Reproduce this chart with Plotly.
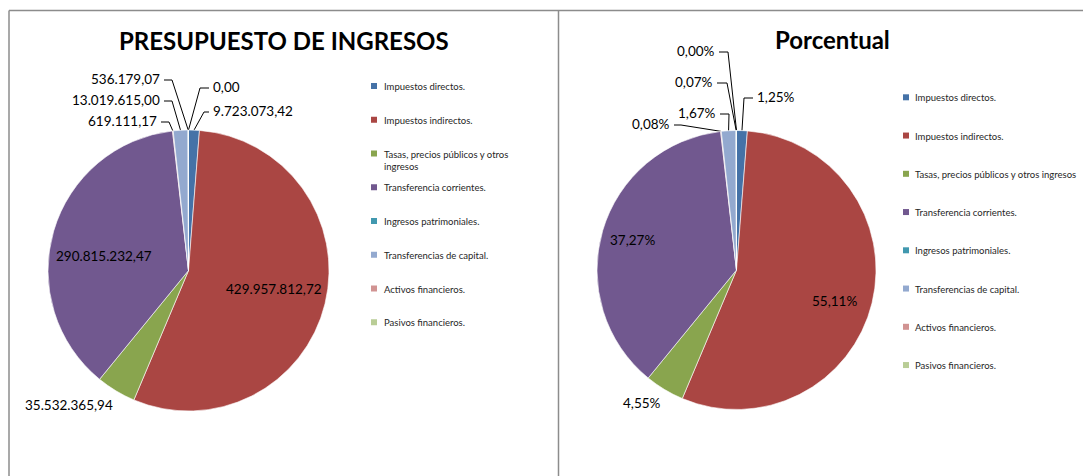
import math
import plotly.graph_objects as go

# categories (legend order) and values
categorias = [
    "Impuestos directos.",
    "Impuestos indirectos.",
    "Tasas, precios públicos y otros ingresos",
    "Transferencia corrientes.",
    "Ingresos patrimoniales.",
    "Transferencias de capital.",
    "Activos financieros.",
    "Pasivos financieros.",
]
importes = [9723073.42, 429957812.72, 35532365.94, 290815232.47,
            536179.07, 13019615.00, 619111.17, 0.00]
colores = ["#4572A7", "#AA4643", "#89A54E", "#71588F",
           "#4198AF", "#93A9CF", "#D19392", "#B9CD96"]
# order in which the slices sit around the pie (clockwise from 12 o'clock)
orden_pie = [0, 1, 2, 3, 6, 5, 4, 7]

total = sum(importes)
porcentajes = [v / total * 100 for v in importes]


def es_num(v, dec=2):
    s = f"{v:,.{dec}f}"
    return s.replace(",", "X").replace(".", ",").replace("X", ".")


txt_importes = [es_num(v) for v in importes]
txt_pct = [es_num(p) + "%" for p in porcentajes]

# the page body has an 8px margin, so the figure is drawn from (8, 8)
OFF = 8
SW, SH = 1091, 476
W, H = SW - OFF, SH - OFF
FONT = "Lato"

# pie geometry (screen pixels): centre x, centre y, radius
pies = [
    dict(cx=188.5, cy=270.5, r=140.5, title="PRESUPUESTO DE INGRESOS", tx=284, ty=40,
         textos=txt_importes),
    dict(cx=736.5, cy=270.0, r=139.5, title="Porcentual", tx=832, ty=39,
         textos=txt_pct),
]

# label placement: category -> (x, y, side, stub)   side 'in' = centred text
etiquetas = [
    {1: (274, 289, "in", 0), 3: (104, 256, "in", 0), 2: (69, 405, "in", 0),
     4: (162, 79, "r", 8), 5: (162, 100, "r", 8), 6: (159, 121, "r", 8),
     7: (211, 87, "l", 9), 0: (211, 111, "l", 5)},
    {1: (834, 301, "in", 0), 3: (632, 240, "in", 0), 2: (642, 403, "in", 0),
     7: (717, 51, "r", 9), 4: (715, 82, "r", 10), 5: (718, 113, "r", 9),
     6: (672, 124, "r", 7), 0: (755, 97, "l", 9)},
]

fig = go.Figure()
annotations = []
shapes = []

lx, ly = [], []
for p, lab in zip(pies, etiquetas):
    fig.add_trace(go.Pie(
        labels=[categorias[i] for i in orden_pie],
        values=[importes[i] for i in orden_pie],
        marker=dict(colors=[colores[i] for i in orden_pie], line=dict(color="white", width=0.6)),
        sort=False, direction="clockwise", rotation=0,
        textinfo="none", hoverinfo="label+value+percent", showlegend=False,
        domain=dict(x=[(p["cx"] - p["r"] - OFF) / W, (p["cx"] + p["r"] - OFF) / W],
                    y=[1 - (p["cy"] + p["r"] - OFF) / H, 1 - (p["cy"] - p["r"] - OFF) / H]),
    ))
    annotations.append(dict(x=p["tx"], y=p["ty"], xref="x", yref="y", text=f"<b>{p['title']}</b>",
                            showarrow=False, font=dict(family=FONT, size=24, color="black")))
    # mid-angle of each slice
    acum = 0.0
    mid = {}
    for i in orden_pie:
        frac = importes[i] / total
        mid[i] = acum + frac / 2
        acum += frac
    for i, (x, y, side, stub) in lab.items():
        if side == "in":
            annotations.append(dict(x=x, y=y, xref="x", yref="y", text=p["textos"][i], showarrow=False,
                                    font=dict(family=FONT, size=13.5, color="black")))
            continue
        annotations.append(dict(x=x, y=y, xref="x", yref="y", text=p["textos"][i], showarrow=False,
                                xanchor="right" if side == "r" else "left",
                                font=dict(family=FONT, size=13.5, color="black")))
        a = 2 * math.pi * mid[i]
        ex = p["cx"] + p["r"] * math.sin(a)
        ey = p["cy"] - p["r"] * math.cos(a)
        if side == "r":
            s0, s1 = x + 2, x + 2 + stub
        else:
            s0, s1 = x - 2, x - 2 - stub
        yy = y + 1
        lx += [s0, s1, ex, None]
        ly += [yy, yy, ey, None]

fig.add_trace(go.Scatter(x=lx, y=ly, mode="lines", line=dict(color="black", width=1),
                         hoverinfo="skip", showlegend=False))

# legends drawn by hand
legendas = [
    dict(sx=371, tx=382, y0=86, dy=33.75, tasas="Tasas, precios públicos y otros<br>ingresos"),
    dict(sx=903, tx=913, y0=97.3, dy=38.25, tasas=categorias[2]),
]
for lg in legendas:
    for k, cat in enumerate(categorias):
        y = lg["y0"] + k * lg["dy"]
        shapes.append(dict(type="rect", xref="x", yref="y", x0=lg["sx"], x1=lg["sx"] + 6,
                           y0=y - 3, y1=y + 3, fillcolor=colores[k], line=dict(width=0)))
        txt = lg["tasas"] if k == 2 else cat
        annotations.append(dict(x=lg["tx"], y=y - 7, xref="x", yref="y", text=txt, showarrow=False,
                                xanchor="left", yanchor="top", align="left",
                                font=dict(family=FONT, size=9.5, color="#262626")))

# chart area borders
borde = dict(color="#8c8c8c", width=1.5)
shapes.append(dict(type="line", xref="x", yref="y", x0=9, x1=SW + 5, y0=10.5, y1=10.5, line=borde))
shapes.append(dict(type="line", xref="x", yref="y", x0=9, x1=9, y0=10.5, y1=SH + 5, line=borde))
shapes.append(dict(type="line", xref="x", yref="y", x0=558.5, x1=558.5, y0=10.5, y1=SH + 5, line=borde))

fig.update_layout(
    width=W, height=H, margin=dict(l=0, r=0, t=0, b=0),
    paper_bgcolor="white", plot_bgcolor="rgba(0,0,0,0)",
    xaxis=dict(range=[OFF, SW], visible=False, fixedrange=True),
    yaxis=dict(range=[SH, OFF], visible=False, fixedrange=True),
    annotations=annotations, shapes=shapes, showlegend=False,
)

fig.write_html("out.html")
